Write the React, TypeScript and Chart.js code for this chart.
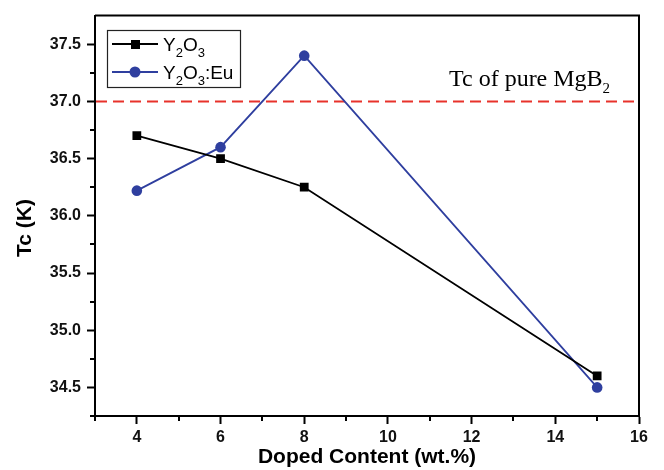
import React, { useEffect, useRef } from "react";
import { Chart, registerables } from "chart.js";

Chart.register(...registerables);

const dopedContent = [4, 6, 8, 15];
const tcY2O3 = [36.7, 36.5, 36.25, 34.6];
const tcY2O3Eu = [36.22, 36.6, 37.4, 34.5];
const xMajorTicks = [4, 6, 8, 10, 12, 14, 16];
const xMinorTicks = [3, 5, 7, 9, 11, 13, 15];
const yMajorTicks = [34.5, 35.0, 35.5, 36.0, 36.5, 37.0, 37.5];
const yMinorTicks = [34.25, 34.75, 35.25, 35.75, 36.25, 36.75, 37.25];
const pureMgB2Tc = 37.0;

const BLACK = "#000000";
const BLUE = "#2f3f9f";
const RED = "#e8322b";
const SANS = "'Liberation Sans', Arial, sans-serif";
const SERIF = "'Liberation Serif', 'Times New Roman', serif";

function drawSubText(
  ctx: CanvasRenderingContext2D,
  parts: { t: string; sub?: boolean }[],
  x: number,
  baseline: number,
  size: number,
  subSize: number,
  family: string,
  color: string
) {
  ctx.fillStyle = color;
  ctx.textBaseline = "alphabetic";
  ctx.textAlign = "left";
  let cx = x;
  for (const p of parts) {
    ctx.font = `${p.sub ? subSize : size}px ${family}`;
    ctx.fillText(p.t, cx, p.sub ? baseline + size * 0.3 : baseline);
    cx += ctx.measureText(p.t).width;
  }
}

const decorPlugin = {
  id: "decor",
  beforeDatasetsDraw(chart: any) {
    const { ctx, chartArea, scales } = chart;
    const y = scales.y.getPixelForValue(pureMgB2Tc);
    ctx.save();
    ctx.strokeStyle = RED;
    ctx.lineWidth = 2;
    ctx.setLineDash([11, 6]);
    ctx.beginPath();
    ctx.moveTo(chartArea.left + 1, y);
    ctx.lineTo(chartArea.right, y);
    ctx.stroke();
    ctx.restore();
  },
  afterDraw(chart: any) {
    const { ctx, chartArea, scales } = chart;
    const { left, right, top, bottom } = chartArea;
    ctx.save();
    // frame top/right
    ctx.strokeStyle = BLACK;
    ctx.lineWidth = 2;
    ctx.beginPath();
    ctx.moveTo(left, top);
    ctx.lineTo(right, top);
    ctx.lineTo(right, bottom);
    ctx.stroke();
    // minor ticks
    ctx.lineWidth = 2;
    ctx.beginPath();
    for (const v of xMinorTicks) {
      const px = Math.round(scales.x.getPixelForValue(v));
      ctx.moveTo(px, bottom);
      ctx.lineTo(px, bottom + 5);
    }
    for (const v of yMinorTicks) {
      const py = Math.round(scales.y.getPixelForValue(v));
      ctx.moveTo(left, py);
      ctx.lineTo(left - 5, py);
    }
    ctx.stroke();

    // Tc of pure MgB2 annotation
    drawSubText(
      ctx,
      [{ t: "Tc of pure MgB" }, { t: "2", sub: true }],
      449,
      86,
      24,
      15,
      SERIF,
      BLACK
    );

    // legend
    ctx.fillStyle = "#ffffff";
    ctx.fillRect(107, 30, 134, 58);
    ctx.strokeStyle = "#222222";
    ctx.lineWidth = 1.2;
    ctx.strokeRect(107.5, 30.5, 133, 57);

    // row 1
    ctx.strokeStyle = BLACK;
    ctx.lineWidth = 2;
    ctx.beginPath();
    ctx.moveTo(112, 44);
    ctx.lineTo(158, 44);
    ctx.stroke();
    ctx.fillStyle = BLACK;
    ctx.fillRect(131, 40, 9, 9);
    drawSubText(
      ctx,
      [{ t: "Y" }, { t: "2", sub: true }, { t: "O" }, { t: "3", sub: true }],
      163,
      51,
      19,
      13,
      SANS,
      BLACK
    );
    // row 2
    ctx.strokeStyle = BLUE;
    ctx.beginPath();
    ctx.moveTo(112, 72);
    ctx.lineTo(158, 72);
    ctx.stroke();
    ctx.fillStyle = BLUE;
    ctx.beginPath();
    ctx.arc(135, 72, 5.5, 0, Math.PI * 2);
    ctx.fill();
    drawSubText(
      ctx,
      [
        { t: "Y" },
        { t: "2", sub: true },
        { t: "O" },
        { t: "3", sub: true },
        { t: ":Eu" },
      ],
      163,
      79,
      19,
      13,
      SANS,
      BLACK
    );

    // axis titles
    ctx.fillStyle = BLACK;
    ctx.font = `bold 21px ${SANS}`;
    ctx.textAlign = "center";
    ctx.textBaseline = "middle";
    ctx.fillText("Doped Content (wt.%)", (left + right) / 2, 457);
    ctx.save();
    ctx.translate(25, 228);
    ctx.rotate(-Math.PI / 2);
    ctx.fillText("Tc (K)", 0, 0);
    ctx.restore();
    ctx.restore();
  },
};

export default function App() {
  const ref = useRef<HTMLCanvasElement | null>(null);
  useEffect(() => {
    if (!ref.current) return;
    const chart = new Chart(ref.current, {
      type: "line",
      data: {
        datasets: [
          {
            label: "Y2O3",
            data: dopedContent.map((x, i) => ({ x, y: tcY2O3[i] })),
            borderColor: BLACK,
            backgroundColor: BLACK,
            borderWidth: 1.8,
            pointStyle: "rect",
            pointRadius: 6.2,
            pointBorderWidth: 0,
          },
          {
            label: "Y2O3:Eu",
            data: dopedContent.map((x, i) => ({ x, y: tcY2O3Eu[i] })),
            borderColor: BLUE,
            backgroundColor: BLUE,
            borderWidth: 1.8,
            pointStyle: "circle",
            pointRadius: 5.3,
            pointBorderWidth: 0,
          },
        ],
      },
      options: {
        responsive: false,
        animation: false,
        layout: { padding: { top: 13, right: 25, left: 0, bottom: 0 } },
        plugins: {
          legend: { display: false },
          tooltip: { enabled: false },
          title: { display: false },
        },
        scales: {
          x: {
            type: "linear",
            min: 3,
            max: 16,
            afterBuildTicks: (s: any) => {
              s.ticks = xMajorTicks.map((v) => ({ value: v }));
            },
            afterFit: (s: any) => {
              s.height = 54;
            },
            border: { display: true, color: BLACK, width: 2 },
            grid: {
              drawOnChartArea: false,
              drawTicks: true,
              tickLength: 8,
              tickWidth: 2,
              tickColor: BLACK,
            },
            ticks: {
              color: "#111111",
              font: { family: SANS, size: 16, weight: "bold" },
              padding: 4,
              maxRotation: 0,
              callback: (v: any) => String(v),
            },
          },
          y: {
            type: "linear",
            min: 34.25,
            max: 37.75,
            afterBuildTicks: (s: any) => {
              s.ticks = yMajorTicks.map((v) => ({ value: v }));
            },
            afterFit: (s: any) => {
              s.width = 95;
            },
            border: { display: true, color: BLACK, width: 2 },
            grid: {
              drawOnChartArea: false,
              drawTicks: true,
              tickLength: 8,
              tickWidth: 2,
              tickColor: BLACK,
            },
            ticks: {
              color: "#111111",
              font: { family: SANS, size: 16, weight: "bold" },
              padding: 6,
              callback: (v: any) => Number(v).toFixed(1),
            },
          },
        },
      },
      plugins: [decorPlugin],
    } as any);
    return () => chart.destroy();
  }, []);
  return (
    <div
      style={{
        position: "fixed",
        left: 0,
        top: 0,
        width: 664,
        height: 470,
        background: "#ffffff",
      }}
    >
      <canvas ref={ref} width={664} height={470} style={{ display: "block" }} />
    </div>
  );
}
